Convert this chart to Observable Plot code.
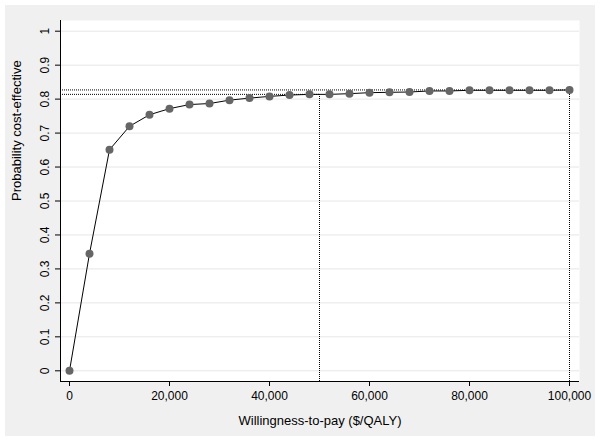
<!DOCTYPE html>
<html>
<head>
<meta charset="utf-8">
<script src="https://cdn.jsdelivr.net/npm/d3@7"></script>
<script src="https://cdn.jsdelivr.net/npm/@observablehq/plot@0.6"></script>
<style>
  html, body { margin: 0; padding: 0; background: #ffffff; }
  #chart svg { display: block; box-shadow: inset 0 0 0 5px #ffffff; }
</style>
</head>
<body>
<div id="chart"></div>
<script>
// Willingness-to-pay values ($/QALY)
const wtp = [0, 4000, 8000, 12000, 16000, 20000, 24000, 28000, 32000, 36000, 40000,
  44000, 48000, 52000, 56000, 60000, 64000, 68000, 72000, 76000, 80000,
  84000, 88000, 92000, 96000, 100000];
// Probability cost-effective
const prob = [0, 0.345, 0.651, 0.720, 0.754, 0.772, 0.784, 0.787, 0.797, 0.803, 0.808,
  0.812, 0.814, 0.814, 0.816, 0.819, 0.820, 0.821, 0.824, 0.824, 0.826,
  0.826, 0.826, 0.826, 0.826, 0.827];
// Reference thresholds and their probabilities
const refWtp = [50000, 100000];
const refProb = [0.814, 0.827];
// Tick values
const xTicks = [0, 20000, 40000, 60000, 80000, 100000];
const yTicks = [0, 0.1, 0.2, 0.3, 0.4, 0.5, 0.6, 0.7, 0.8, 0.9, 1];
const xTitle = "Willingness-to-pay ($/QALY)";
const yTitle = "Probability cost-effective";

const curve = wtp.map((w, i) => ({wtp: w, prob: prob[i]}));
const refs = refWtp.map((w, i) => ({wtp: w, prob: refProb[i]}));

const xMin = -1800, xMax = 102000;
const yMin = -0.0315, yMax = 1.0315;

const chart = Plot.plot({
  width: 600,
  height: 441,
  marginLeft: 60,
  marginRight: 21,
  marginTop: 20,
  marginBottom: 60,
  style: {background: "#f0f0f0", fontFamily: "'Liberation Sans', Arial, sans-serif", color: "#000", overflow: "visible"},
  x: {domain: [xMin, xMax]},
  y: {domain: [yMin, yMax]},
  marks: [
    Plot.frame({fill: "#ffffff", stroke: null}),
    Plot.gridY(yTicks, {stroke: "#e6e6e6", strokeOpacity: 1, strokeWidth: 1}),
    Plot.ruleX(refs, {x: "wtp", y1: yMin, y2: "prob", stroke: "#000", strokeWidth: 1, strokeDasharray: "1,1"}),
    Plot.ruleY(refs, {y: "prob", x1: xMin, x2: "wtp", stroke: "#000", strokeWidth: 1, strokeDasharray: "1,1"}),
    Plot.line(curve, {x: "wtp", y: "prob", stroke: "#000", strokeWidth: 1}),
    Plot.dot(curve, {x: "wtp", y: "prob", r: 4, fill: "#666666", stroke: null}),
    Plot.axisX(xTicks, {tickFormat: d3.format(","), tickSize: 5, tickPadding: 5, fontSize: 12, label: null, stroke: "#000"}),
    Plot.axisY(yTicks, {tickFormat: d => String(+d.toFixed(1)), tickSize: 5, tickPadding: 7, tickRotate: -90, fontSize: 12, label: null, stroke: "#000"}),
    Plot.ruleX([xMin], {stroke: "#000", strokeWidth: 1}),
    Plot.ruleY([yMin], {stroke: "#000", strokeWidth: 1}),
    Plot.text([xTitle], {frameAnchor: "bottom", dy: 43, fontSize: 13, fill: "#000"}),
    Plot.text([yTitle], {frameAnchor: "left", dx: -44, rotate: -90, fontSize: 13, fill: "#000"})
  ]
});
document.getElementById("chart").appendChild(chart);
</script>
</body>
</html>
